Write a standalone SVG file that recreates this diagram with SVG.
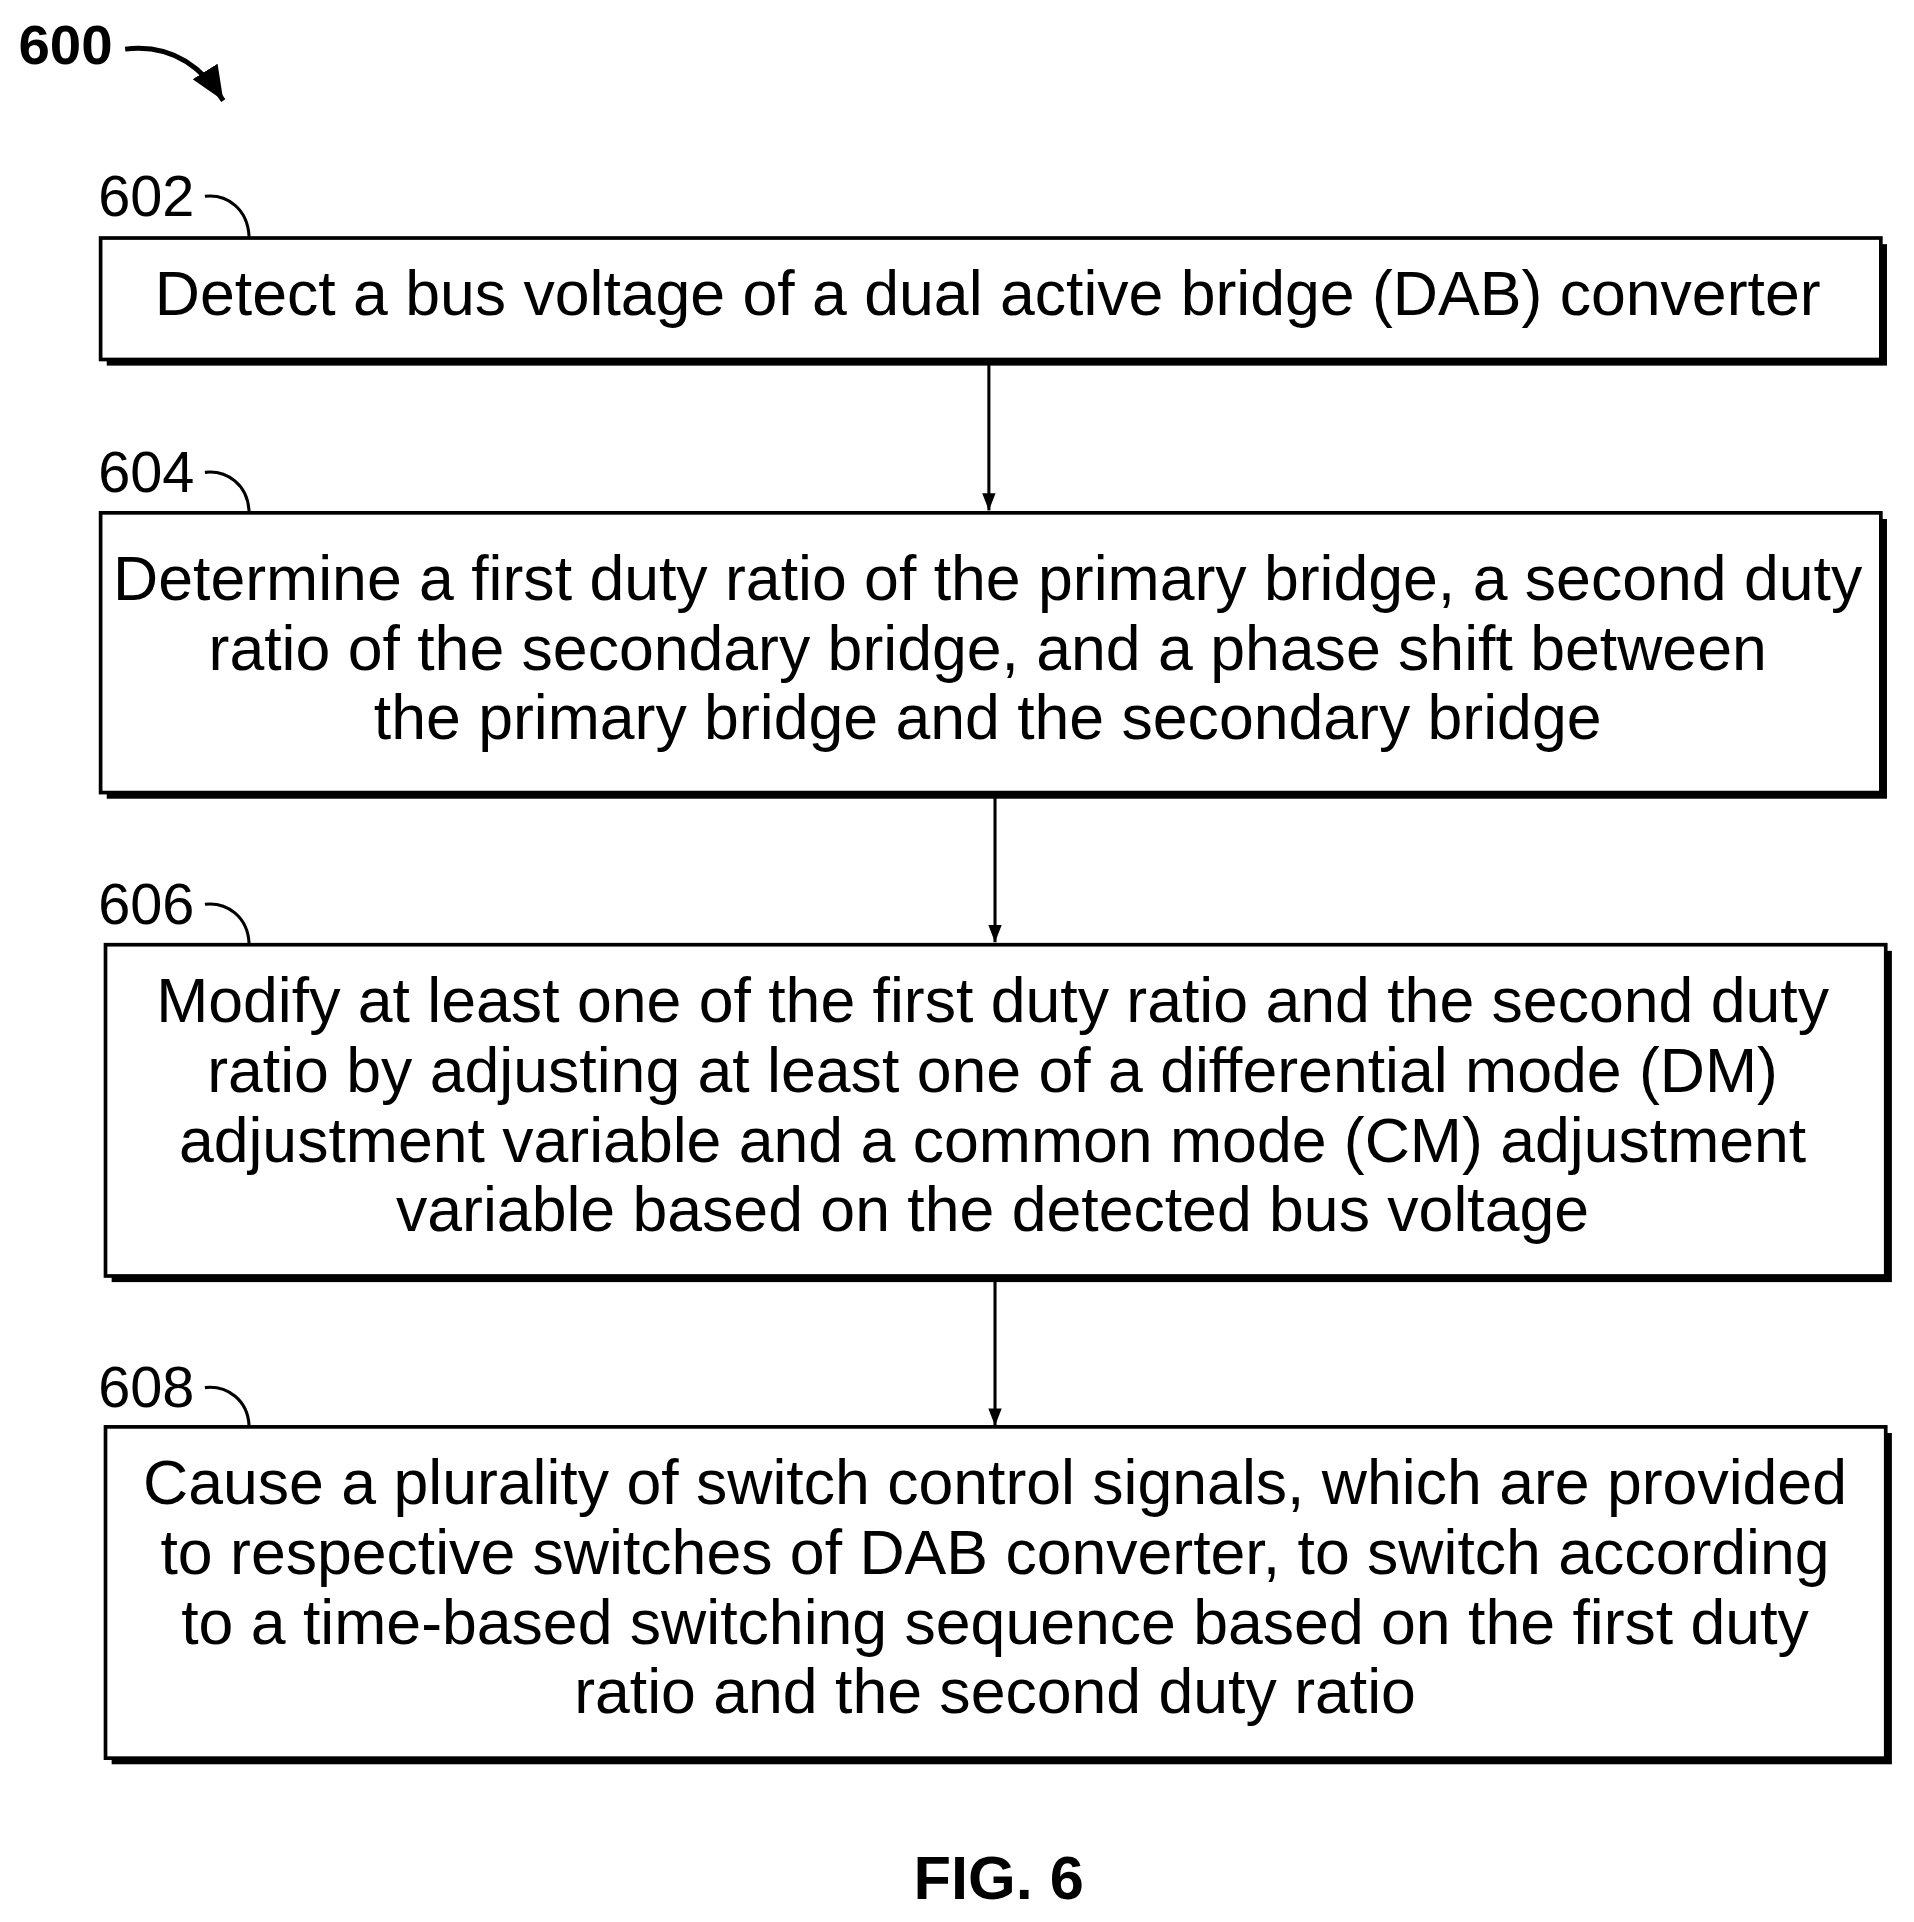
<svg xmlns="http://www.w3.org/2000/svg" width="1914" height="1922" viewBox="0 0 1914 1922">
<style>
.box{fill:#fff;stroke:#000;stroke-width:3}
.sh{fill:#000}
.t{font-family:"Liberation Sans",Arial,sans-serif;font-size:51px;text-anchor:middle;fill:#000}
.lb{font-family:"Liberation Sans",Arial,sans-serif;font-size:47px;fill:#000}
.ld{fill:none;stroke:#000;stroke-width:2.5}
.c{stroke:#000;stroke-width:2.5;fill:none}
</style>
<defs>
<marker id="ah" markerWidth="14" markerHeight="18" refX="18" refY="7" orient="auto" markerUnits="userSpaceOnUse" viewBox="0 0 18 14"><path d="M0,0 L18,7 L0,14 Z" fill="#000"/></marker>
<marker id="ah2" markerWidth="28" markerHeight="24" refX="28" refY="12" orient="auto" markerUnits="userSpaceOnUse" viewBox="0 0 28 24"><path d="M0,0 L28,12 L0,24 Z" fill="#000"/></marker>
</defs>
<rect width="1914" height="1922" fill="#fff"/>
<g transform="scale(1.2269)">
<g id="title">
<text x="15" y="52" font-family="Liberation Sans,Arial,sans-serif" font-weight="bold" font-size="46">600</text>
<path d="M102,40 C135,36 162,50 182,82" stroke="#000" stroke-width="4" fill="none" marker-end="url(#ah2)"/>
</g>
<g id="connectors">
<line class="c" x1="806" y1="296" x2="806" y2="416" marker-end="url(#ah)"/>
<line class="c" x1="811" y1="649" x2="811" y2="768" marker-end="url(#ah)"/>
<line class="c" x1="811" y1="1043" x2="811" y2="1162" marker-end="url(#ah)"/>
</g>
<g id="n602">
<rect class="sh" x="87" y="199" width="1451" height="99"/>
<rect class="box" x="82" y="194" width="1451" height="99"/>
<text class="lb" x="80" y="176">602</text>
<path class="ld" d="M167,160 C185,158 202,170 203,193"/>
<text class="t" x="805" y="257">Detect a bus voltage of a dual active bridge (DAB) converter</text>
</g>
<g id="n604">
<rect class="sh" x="87" y="423" width="1451" height="228"/>
<rect class="box" x="82" y="418" width="1451" height="228"/>
<text class="lb" x="80" y="401">604</text>
<path class="ld" d="M167,385 C185,383 202,395 203,417"/>
<text class="t" x="805" y="489">Determine a first duty ratio of the primary bridge, a second duty</text>
<text class="t" x="805" y="546">ratio of the secondary bridge, and a phase shift between</text>
<text class="t" x="805" y="602">the primary bridge and the secondary bridge</text>
</g>
<g id="n606">
<rect class="sh" x="91" y="775" width="1451" height="270"/>
<rect class="box" x="86" y="770" width="1451" height="270"/>
<text class="lb" x="80" y="753">606</text>
<path class="ld" d="M167,737 C185,735 202,747 203,769"/>
<text class="t" x="809" y="833">Modify at least one of the first duty ratio and the second duty</text>
<text class="t" x="809" y="890">ratio by adjusting at least one of a differential mode (DM)</text>
<text class="t" x="809" y="947">adjustment variable and a common mode (CM) adjustment</text>
<text class="t" x="809" y="1003">variable based on the detected bus voltage</text>
</g>
<g id="n608">
<rect class="sh" x="91" y="1168" width="1451" height="270"/>
<rect class="box" x="86" y="1163" width="1451" height="270"/>
<text class="lb" x="80" y="1147">608</text>
<path class="ld" d="M167,1131 C185,1129 202,1141 203,1162"/>
<text class="t" x="811" y="1226">Cause a plurality of switch control signals, which are provided</text>
<text class="t" x="811" y="1283">to respective switches of DAB converter, to switch according</text>
<text class="t" x="811" y="1340">to a time-based switching sequence based on the first duty</text>
<text class="t" x="811" y="1396">ratio and the second duty ratio</text>
</g>
<text x="814" y="1548" text-anchor="middle" font-family="Liberation Sans,Arial,sans-serif" font-weight="bold" font-size="50">FIG. 6</text>
</g>
</svg>
